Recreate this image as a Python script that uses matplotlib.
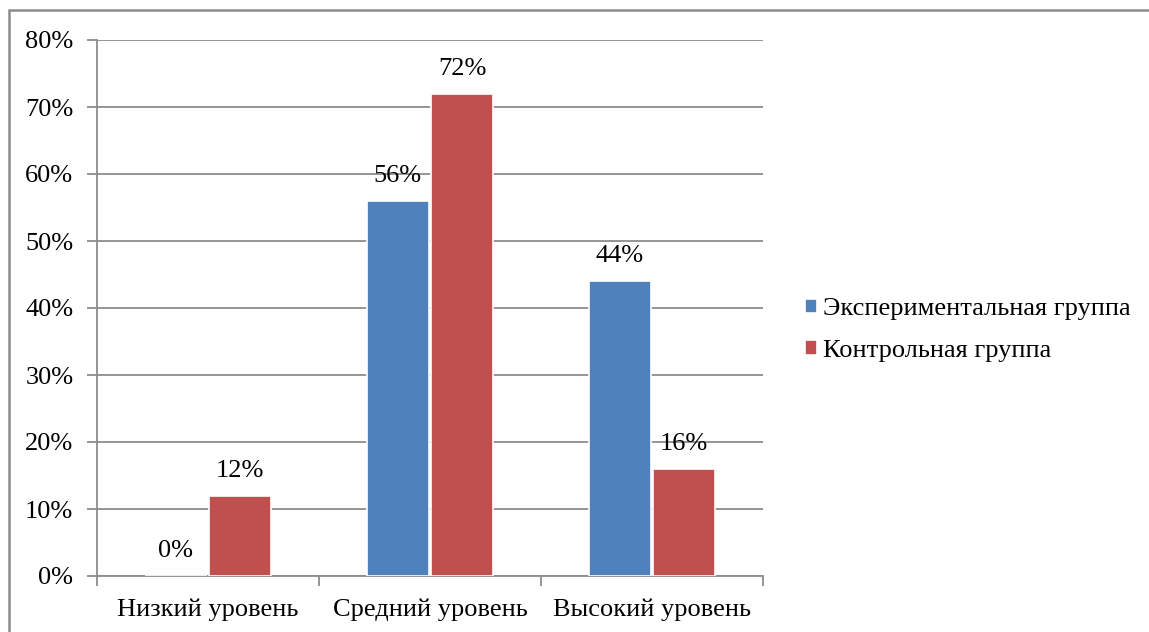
import matplotlib.pyplot as plt
from matplotlib.patches import Rectangle
import numpy as np

plt.rcParams['font.family'] = ['Liberation Serif', 'DejaVu Serif']
plt.rcParams['font.size'] = 19

categories = ['Низкий уровень', 'Средний уровень', 'Высокий уровень']
series_names = ['Экспериментальная группа', 'Контрольная группа']
exp_values = [0, 56, 44]
ctrl_values = [12, 72, 16]
colors = ['#4f81bd', '#c0504d']

fig = plt.figure(figsize=(11.49, 6.32), dpi=100)
# outer chart border: only the left and top edges are inside the picture
fig.patches.append(Rectangle((8.5 / 1149, -0.05), 1.1, 1.05 - 9.5 / 632,
                             transform=fig.transFigure, fill=False,
                             edgecolor='#8c8c8c', linewidth=1.8))
ax = fig.add_axes([97 / 1149, 56 / 632, 666 / 1149, 536 / 632])

x = np.arange(len(categories)) + 0.5
w = 0.28
for i, (vals, name) in enumerate([(exp_values, series_names[0]),
                                  (ctrl_values, series_names[1])]):
    pos = x + (i - 0.5) * (w + 0.01)
    ax.bar(pos, vals, w, color=colors[i], edgecolor='white',
           linewidth=1.2, label=name, zorder=3)
    for p, v in zip(pos, vals):
        ax.annotate(f'{v}%', (p, v), xytext=(0, 18), textcoords='offset points',
                    ha='center', va='center')

ax.set_xlim(0, 3)
ax.set_ylim(0, 80)
ax.set_yticks(np.arange(0, 81, 10))
ax.set_yticklabels([f'{t}%' for t in range(0, 81, 10)])
ax.set_xticks([0, 1, 2, 3])
ax.set_xticklabels([])
ax.set_xticks(x, minor=True)
ax.set_xticklabels(categories, minor=True)
ax.tick_params(axis='x', which='minor', length=0, pad=16)
ax.tick_params(axis='x', which='major', length=7, color='#8c8c8c', width=1.3)
ax.tick_params(axis='y', length=7, color='#8c8c8c', width=1.3, pad=10)
ax.grid(axis='y', color='#8c8c8c', linewidth=1.3, zorder=0)
for s in ['top', 'right']:
    ax.spines[s].set_visible(False)
for s in ['left', 'bottom']:
    ax.spines[s].set_color('#8c8c8c')
    ax.spines[s].set_linewidth(1.3)

fig.legend(loc='center left', bbox_to_anchor=(805 / 1149, 1 - 330 / 632),
           frameon=False, handlelength=0.45, handleheight=0.45,
           handletextpad=0.25, labelspacing=0.75, borderaxespad=0,
           borderpad=0)

fig.savefig('out.png', dpi=100)
